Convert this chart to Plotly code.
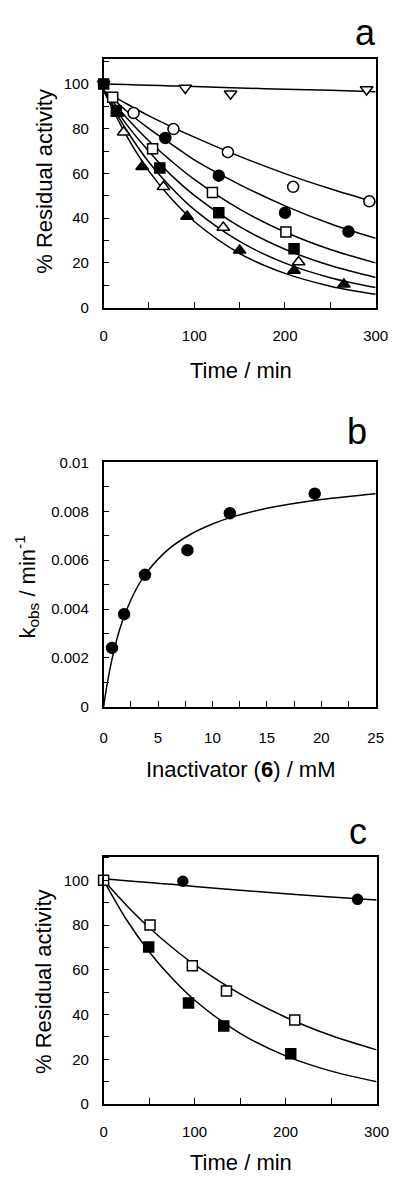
import plotly.graph_objects as go

# ---------------- Panel a data ----------------
a_invtri_t = [0, 90, 140, 290]
a_invtri_v = [100, 98.2, 95.6, 97.5]
a_ocirc_t = [33, 77, 137, 209, 293]
a_ocirc_v = [87, 79.8, 69.5, 54, 47.5]
a_fcirc_t = [68, 127, 200, 270]
a_fcirc_v = [75.8, 59, 42.4, 34]
a_osq_t = [10, 54, 120, 201]
a_osq_v = [94, 71, 51.5, 33.8]
a_fsq_t = [0, 14, 62, 127, 210]
a_fsq_v = [100, 88, 62.4, 42.4, 26.3]
a_otri_t = [22, 66, 132, 215]
a_otri_v = [78.4, 54, 35.8, 20.4]
a_ftri_t = [15, 42.5, 92, 150, 210, 265]
a_ftri_v = [86.8, 63, 40.7, 25.6, 16.6, 10.4]

# fitted curves at knots
a_fit_t = [0, 25, 50, 75, 100, 150, 200, 250, 300]
a_fit_invtri = [100, 99.7, 99.4, 99.1, 98.8, 98.2, 97.6, 97.1, 96.5]
a_fit_ocirc = [97, 91.2, 85.7, 80.8, 76.2, 67.6, 59.9, 53.1, 47]
a_fit_fcirc = [97, 88, 80, 73, 66, 55, 45.5, 37.5, 31]
a_fit_osq = [97, 85, 74.5, 65.4, 57.3, 44, 33.8, 26, 20]
a_fit_fsq = [97, 82, 69.8, 59, 50.2, 36.2, 26.1, 18.8, 13.5]
a_fit_otri = [97, 79.5, 65, 53.5, 43.8, 29.6, 19.9, 13.4, 9]
a_fit_ftri = [97, 77, 61, 48.5, 38.5, 24.2, 15.3, 9.6, 6]

# ---------------- Panel b data ----------------
b_conc = [0.77, 1.88, 3.8, 7.7, 11.6, 19.4]
b_kobs = [0.00241, 0.00379, 0.0054, 0.00641, 0.00792, 0.00872]
b_fit_conc = [0, 0.25, 0.5, 1, 1.5, 2, 3, 4, 6, 8, 10, 12, 15, 20, 25]
b_fit_kobs = [0, 0.00073, 0.00136, 0.00239, 0.00320, 0.00384, 0.00482, 0.00552,
              0.00646, 0.00706, 0.00748, 0.00779, 0.00812, 0.00848, 0.00872]
b_tickvals = [0, 0.002, 0.004, 0.006, 0.008, 0.01]
b_ticktext = ["0", "0.002", "0.004", "0.006", "0.008", "0.01"]

# ---------------- Panel c data ----------------
c_fcirc_t = [87, 279]
c_fcirc_v = [99.6, 91.5]
c_osq_t = [0, 51, 97.5, 135, 210]
c_osq_v = [100, 80, 61.8, 50.5, 37.6]
c_fsq_t = [49.5, 93.3, 132, 205.6]
c_fsq_v = [70.2, 45.2, 34.9, 22.5]
c_fit_t = [0, 25, 50, 75, 100, 150, 200, 250, 300]
c_fit_fcirc = [100.7, 99.8, 99, 98.2, 97.3, 95.6, 94, 92.6, 91.2]
c_fit_osq = [100, 88.9, 78.9, 70.1, 62.3, 49.2, 38.8, 30.6, 24.2]
c_fit_fsq = [100, 82.5, 68.1, 56.3, 46.4, 31.6, 21.5, 14.7, 10]

W, H = 404, 1182
FONT = "Liberation Sans, Arial, Helvetica, sans-serif"


def px_x(p):
    return p / W


def px_y(p):
    return 1 - p / H


fig = go.Figure()
MS = 11


def add_curve(x, y, xa, ya):
    fig.add_trace(go.Scatter(x=x, y=y, mode="lines",
                             line=dict(color="black", width=1.5, shape="spline", smoothing=1.0),
                             xaxis=xa, yaxis=ya, showlegend=False, hoverinfo="skip"))


def add_pts(x, y, sym, filled, xa, ya, size=MS):
    fig.add_trace(go.Scatter(x=x, y=y, mode="markers",
                             marker=dict(symbol=sym, size=size, color="black" if filled else "white",
                                         line=dict(color="black", width=1.5)),
                             xaxis=xa, yaxis=ya, showlegend=False, cliponaxis=False))


# Panel a
for curve in [a_fit_invtri, a_fit_ocirc, a_fit_fcirc, a_fit_osq, a_fit_fsq, a_fit_otri, a_fit_ftri]:
    add_curve(a_fit_t, curve, "x", "y")
add_pts(a_invtri_t, a_invtri_v, "triangle-down", False, "x", "y")
add_pts(a_fsq_t, a_fsq_v, "square", True, "x", "y", 10)
add_pts(a_ocirc_t, a_ocirc_v, "circle", False, "x", "y")
add_pts(a_fcirc_t, a_fcirc_v, "circle", True, "x", "y")
add_pts(a_osq_t, a_osq_v, "square", False, "x", "y", 10)
add_pts(a_otri_t, a_otri_v, "triangle-up", False, "x", "y")
add_pts(a_ftri_t, a_ftri_v, "triangle-up", True, "x", "y")

# Panel b
add_curve(b_fit_conc, b_fit_kobs, "x2", "y2")
add_pts(b_conc, b_kobs, "circle", True, "x2", "y2", 11)

# Panel c
add_curve(c_fit_t, c_fit_fcirc, "x3", "y3")
add_curve(c_fit_t, c_fit_osq, "x3", "y3")
add_curve(c_fit_t, c_fit_fsq, "x3", "y3")
add_pts(c_fcirc_t, c_fcirc_v, "circle", True, "x3", "y3", 10)
add_pts(c_osq_t, c_osq_v, "square", False, "x3", "y3", 10)
add_pts(c_fsq_t, c_fsq_v, "square", True, "x3", "y3", 10)

TICKFONT = dict(family=FONT, size=15, color="black")


def axis(dom, rng, dtick, minor, anchor, standoff):
    return dict(domain=dom, range=rng, dtick=dtick, tick0=0, ticks="inside", ticklen=6, tickwidth=1.3,
                tickcolor="black", showline=True, mirror=True, linecolor="black", linewidth=1.6,
                showgrid=False, zeroline=False, tickfont=TICKFONT, anchor=anchor,
                ticklabelstandoff=standoff,
                minor=dict(dtick=minor, tick0=0, ticks="inside", ticklen=6, tickwidth=1.3, tickcolor="black",
                           showgrid=False))


xd = [px_x(104), px_x(388)]
yaxis2 = axis([px_y(708), px_y(460)], [0, 0.01], 0.002, 0.001, "x2", 10)
yaxis2.update(tickmode="array", tickvals=b_tickvals, ticktext=b_ticktext)
fig.update_layout(
    width=W, height=H, margin=dict(l=0, r=0, t=0, b=0),
    paper_bgcolor="white", plot_bgcolor="white",
    font=dict(family=FONT, color="black"),
    xaxis=axis(xd, [0, 300], 100, 50, "y", 14),
    yaxis=axis([px_y(303), px_y(51)], [0, 111], 20, 10, "x", 10),
    xaxis2=axis(xd, [0, 25], 5, 2.5, "y2", 16),
    yaxis2=yaxis2,
    xaxis3=axis([px_x(104), px_x(389)], [0, 300], 100, 50, "y3", 13),
    yaxis3=axis([px_y(1111), px_y(860)], [0, 110.6], 20, 10, "x3", 10),
)

TITLE = dict(family=FONT, size=22, color="black")
LETTER = dict(family=FONT, size=36, color="black")
ann = [
    dict(text="a", x=px_x(377), y=px_y(24), font=LETTER),
    dict(text="b", x=px_x(368), y=px_y(429), font=LETTER),
    dict(text="c", x=px_x(370), y=px_y(834), font=LETTER),
    dict(text="% Residual activity", x=px_x(42), y=px_y(175), textangle=-90, font=TITLE),
    dict(text="Time / min", x=px_x(247), y=px_y(367), font=TITLE),
    dict(text="k<sub>obs</sub> / min<sup>-1</sup>", x=px_x(24), y=px_y(586), textangle=-90, font=TITLE),
    dict(text="Inactivator (<b>6</b>) / mM", x=px_x(247), y=px_y(772), font=TITLE),
    dict(text="% Residual activity", x=px_x(42), y=px_y(987), textangle=-90, font=TITLE),
    dict(text="Time / min", x=px_x(247), y=px_y(1170), font=TITLE),
]
for a in ann:
    a.update(xref="paper", yref="paper", showarrow=False, xanchor="center", yanchor="middle")
fig.update_layout(annotations=ann)

fig.write_html("out.html", config={"displayModeBar": False},
               post_script="document.body.style.margin='0';document.body.style.overflow='hidden';")
